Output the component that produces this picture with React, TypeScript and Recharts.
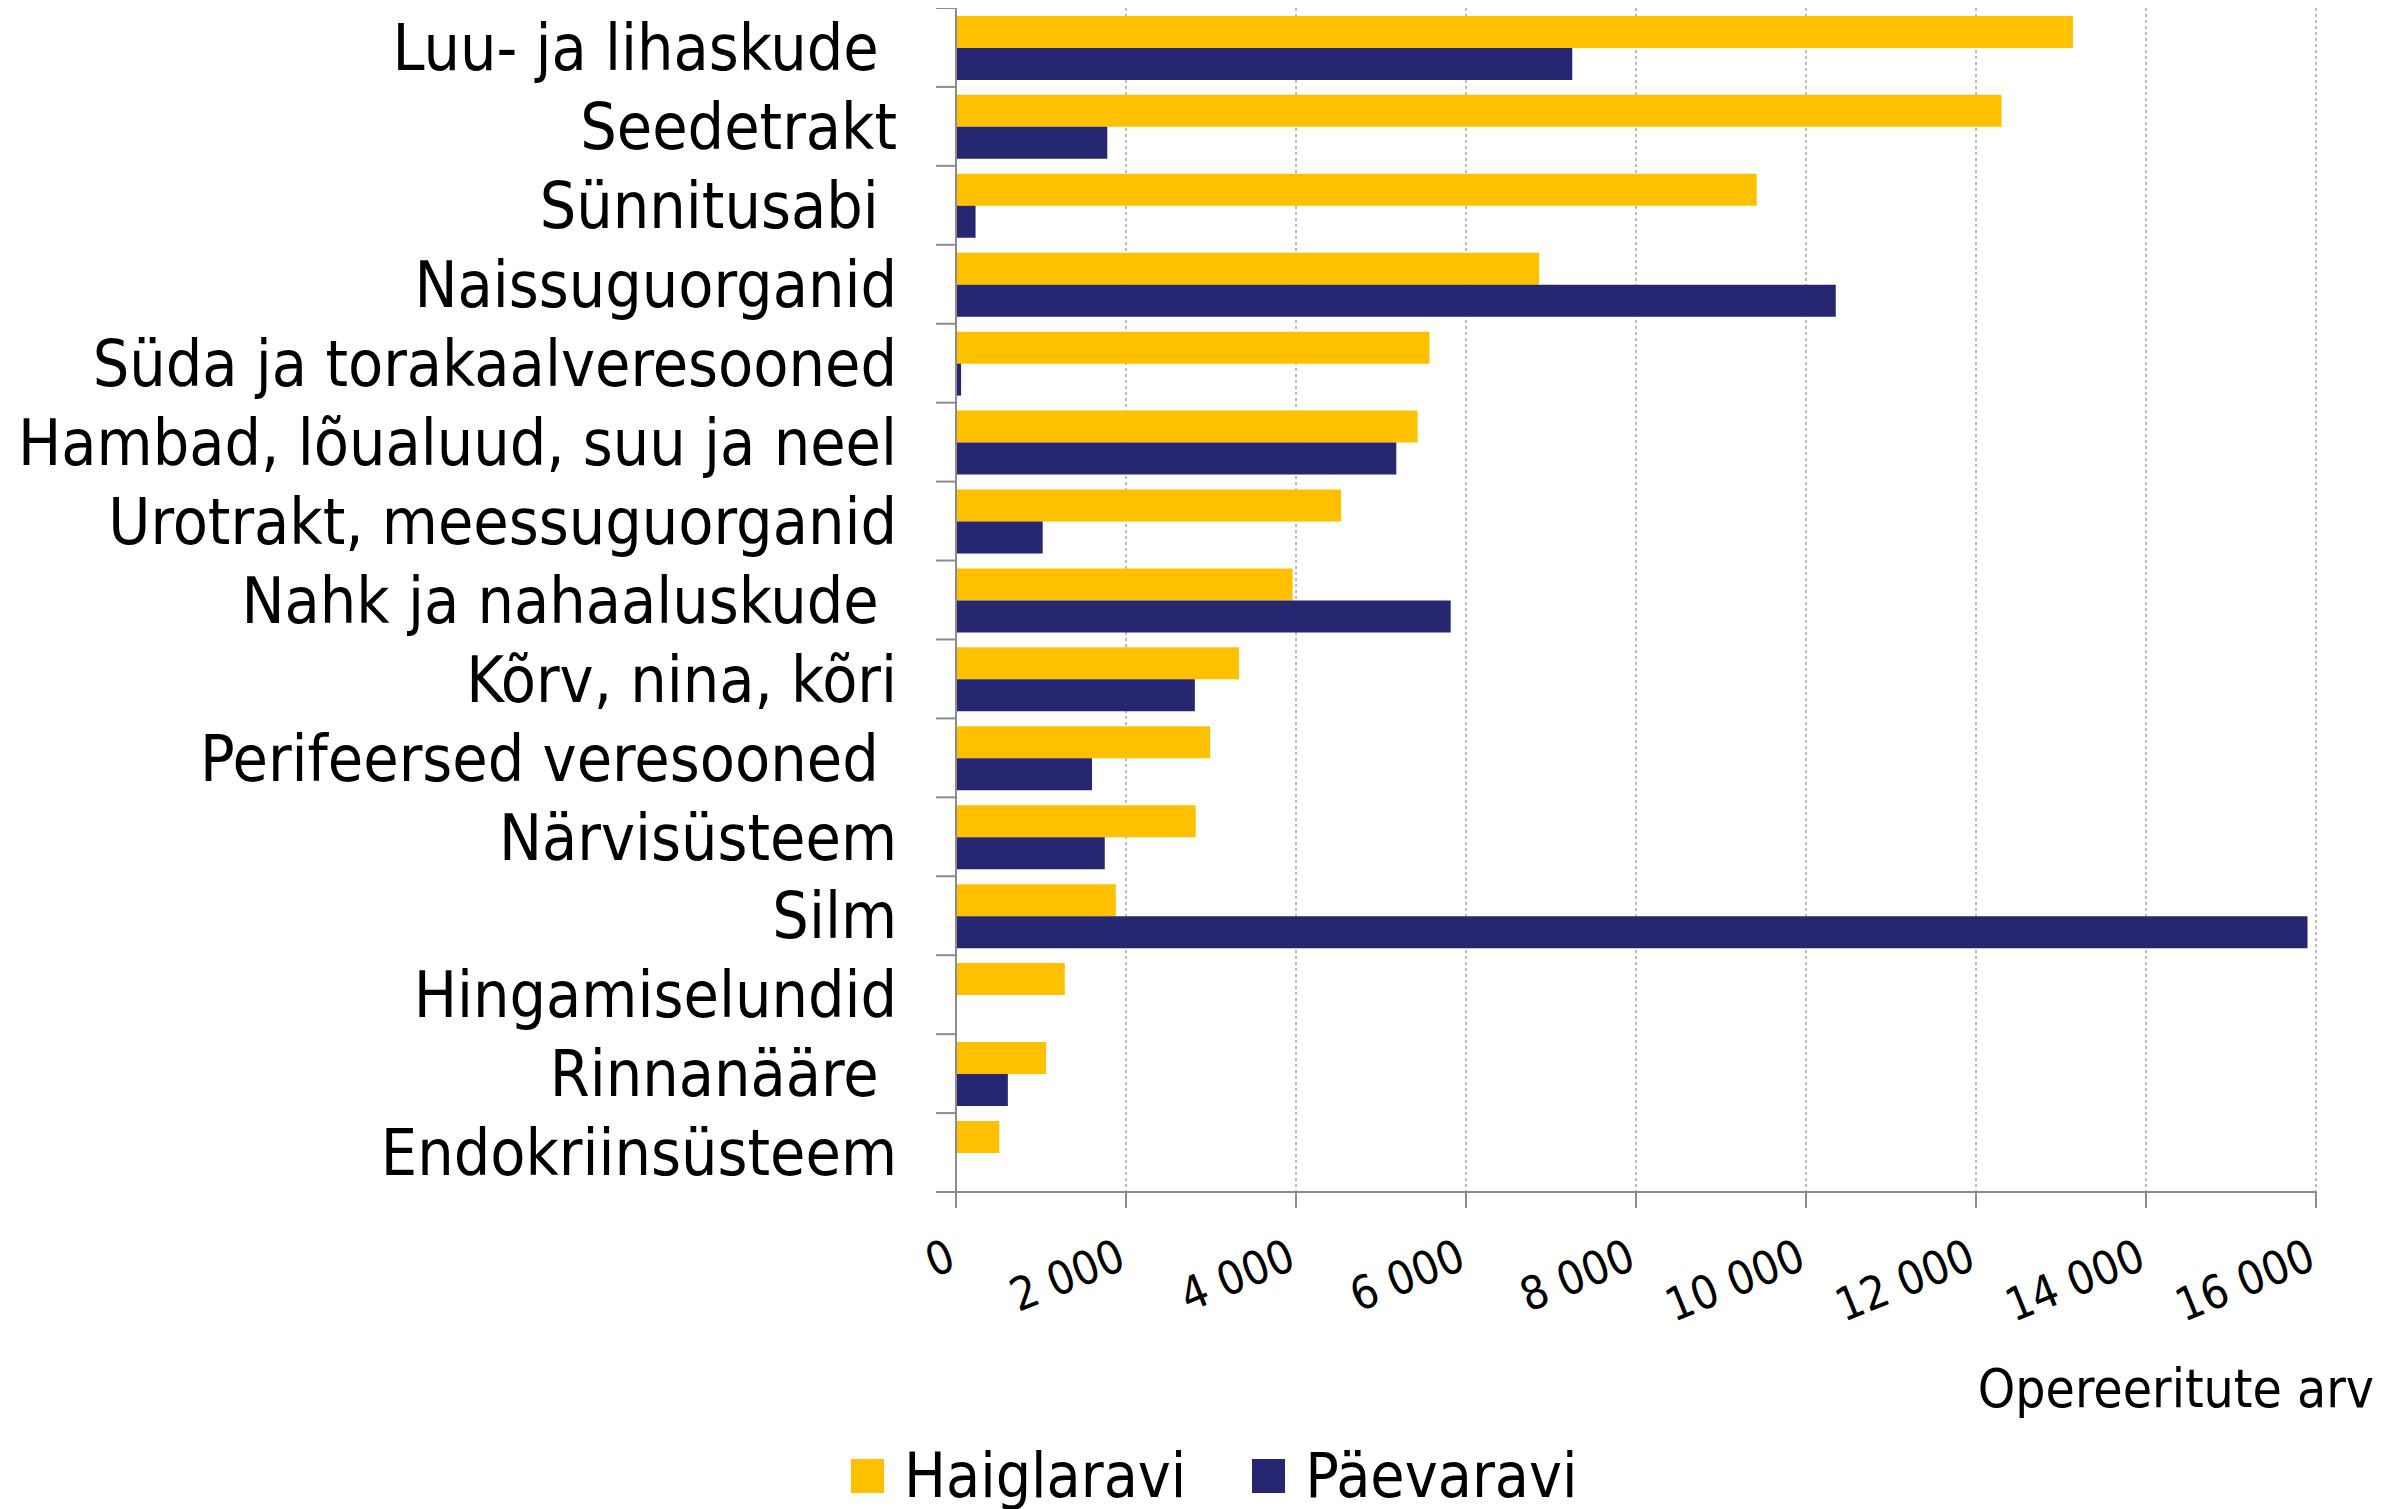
import React from 'react';
import {
    BarChart, Bar, XAxis, YAxis, CartesianGrid, Legend, Label
} from 'recharts';

const categories = [
    'Luu- ja lihaskude ',
    'Seedetrakt',
    'Sünnitusabi ',
    'Naissuguorganid',
    'Süda ja torakaalveresooned',
    'Hambad, lõualuud, suu ja neel',
    'Urotrakt, meessuguorganid',
    'Nahk ja nahaaluskude ',
    'Kõrv, nina, kõri',
    'Perifeersed veresooned ',
    'Närvisüsteem',
    'Silm',
    'Hingamiselundid',
    'Rinnanääre ',
    'Endokriinsüsteem',
];

const haiglaravi = [13140, 12300, 9420, 6860, 5570, 5430, 4530, 3960, 3330, 2990, 2820, 1880, 1280, 1060, 510];
const paevaravi = [7250, 1780, 230, 10350, 60, 5180, 1020, 5820, 2810, 1600, 1750, 15900, 10, 610, 0];

const xTicks = [0, 2000, 4000, 6000, 8000, 10000, 12000, 14000, 16000];

const data = categories.map((name, i) => ({
    name,
    haiglaravi: haiglaravi[i],
    paevaravi: paevaravi[i],
}));

const FONT = "'DejaVu Sans Condensed', 'DejaVu Sans', sans-serif";
const YELLOW = '#FFC000';
const NAVY = '#262671';
const AXIS = '#8c8c8c';

const W = 2375;
const H = 1501;
const AXIS_X = 948;
const AXIS_Y = 1184;
const BAND = AXIS_Y / categories.length;

const fmt = (v: number) => String(v).replace(/\B(?=(\d{3})+(?!\d))/g, ' ');

function YTick(props: any) {
    const { y, payload, index } = props;
    const top = y - BAND / 2;
    return (
        <g>
            <line x1={AXIS_X - 20} x2={AXIS_X} y1={top} y2={top} stroke={AXIS} strokeWidth={2} />
            {index === categories.length - 1 && (
                <line x1={AXIS_X - 20} x2={AXIS_X} y1={top + BAND} y2={top + BAND} stroke={AXIS} strokeWidth={2} />
            )}
            <text
                x={AXIS_X - 59}
                y={y}
                dy="0.355em"
                textAnchor="end"
                fontFamily={FONT}
                fontSize={64}
                fill="#000"
                style={{ whiteSpace: 'pre' }}
            >
                {payload.value}
            </text>
        </g>
    );
}

function XTick(props: any) {
    const { x, payload } = props;
    const tx = x + 2;
    const ty = AXIS_Y + 76;
    return (
        <text
            x={tx}
            y={ty}
            textAnchor="end"
            transform={`rotate(-22, ${tx}, ${ty})`}
            fontFamily={FONT}
            fontSize={46}
            fill="#000"
        >
            {fmt(payload.value)}
        </text>
    );
}

function renderLegend() {
    const items = [
        { label: 'Haiglaravi', color: YELLOW },
        { label: 'Päevaravi', color: NAVY },
    ];
    return (
        <div style={{ display: 'flex', alignItems: 'center', fontFamily: FONT, fontSize: 62, lineHeight: '72px' }}>
            {items.map((it, i) => (
                <div key={it.label} style={{ display: 'flex', alignItems: 'center', marginRight: i === 0 ? 66 : 0 }}>
                    <span style={{ width: 33, height: 34, background: it.color, display: 'inline-block', marginRight: 20 }} />
                    <span>{it.label}</span>
                </div>
            ))}
        </div>
    );
}

export default function App() {
    return (
        <div style={{ width: W, height: H }}>
            <BarChart
                width={W}
                height={H}
                data={data}
                layout="vertical"
                margin={{ top: 0, right: W - 2308, bottom: 0, left: 0 }}
                barCategoryGap="10%"
                barGap={0}
            >
                <CartesianGrid horizontal={false} stroke="#7a7a7a" strokeDasharray="3 3" />
                <XAxis
                    type="number"
                    domain={[0, 16000]}
                    ticks={xTicks}
                    interval={0}
                    height={H - AXIS_Y}
                    tickSize={16}
                    tick={<XTick />}
                    axisLine={{ stroke: AXIS, strokeWidth: 2 }}
                    tickLine={{ stroke: AXIS, strokeWidth: 2 }}
                >
                    <Label
                        content={() => (
                            <text x={2366} y={1399} textAnchor="end" fontFamily={FONT} fontSize={53} fill="#000">
                                Opereeritute arv
                            </text>
                        )}
                    />
                </XAxis>
                <YAxis
                    type="category"
                    dataKey="name"
                    width={AXIS_X}
                    interval={0}
                    tickLine={false}
                    tick={<YTick />}
                    axisLine={{ stroke: AXIS, strokeWidth: 2 }}
                />
                <Legend
                    content={renderLegend}
                    wrapperStyle={{ position: 'absolute', left: 843, top: 1432, width: 900, height: 0 }}
                />
                <Bar dataKey="haiglaravi" name="Haiglaravi" fill={YELLOW} isAnimationActive={false} />
                <Bar dataKey="paevaravi" name="Päevaravi" fill={NAVY} isAnimationActive={false} />
            </BarChart>
        </div>
    );
}
